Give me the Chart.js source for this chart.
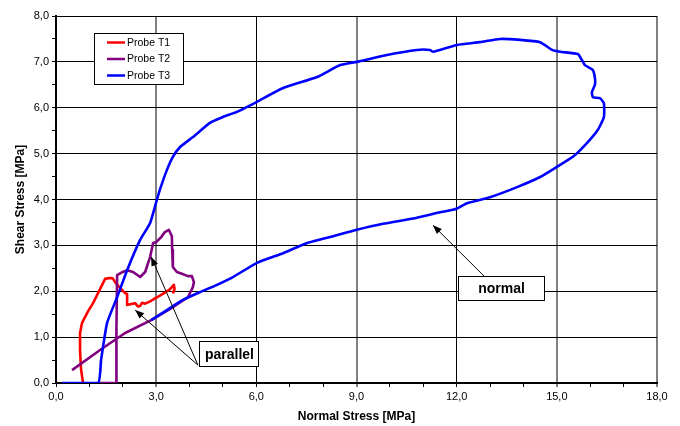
<!DOCTYPE html>
<html>
<head>
<meta charset="utf-8">
<script src="https://cdn.jsdelivr.net/npm/chart.js@4.4.1/dist/chart.umd.min.js"></script>
<style>
  body { margin: 0; background: #fff; }
</style>
</head>
<body>
<canvas id="chart" width="680" height="426"></canvas>
<script>
// values (Normal Stress x, Shear Stress y, both MPa)
const seriesNames = ['Probe T1', 'Probe T2', 'Probe T3']
const seriesColors = ['#ff0000', '#800080', '#0000ff']
const seriesTension = [0, 0, 0.15]

const t1X = [0.81, 0.75, 0.72, 0.72, 0.78, 0.95, 1.11, 1.30, 1.47, 1.60, 1.70, 1.77, 1.92, 2.07, 2.13, 2.13, 2.25, 2.37, 2.45, 2.52, 2.58, 2.67, 2.82, 2.95, 3.10, 3.26, 3.41, 3.53, 3.55, 3.50]
const t1Y = [0.00, 0.30, 0.70, 1.09, 1.31, 1.55, 1.74, 2.02, 2.27, 2.29, 2.28, 2.20, 2.07, 1.96, 1.94, 1.70, 1.72, 1.74, 1.67, 1.68, 1.75, 1.73, 1.78, 1.84, 1.90, 1.97, 2.04, 2.14, 2.05, 1.95]

const t2X = [1.26, 1.80, 1.81, 1.83, 2.00, 2.13, 2.31, 2.52, 2.67, 2.82, 2.91, 3.00, 3.15, 3.26, 3.38, 3.47, 3.48, 3.50, 3.62, 3.77, 3.95, 4.07, 4.13, 4.10, 3.95, 3.41, 2.85, 2.07, 1.32, 0.48]
const t2Y = [0.00, 0.00, 1.20, 2.35, 2.42, 2.46, 2.42, 2.31, 2.42, 2.75, 3.05, 3.07, 3.18, 3.29, 3.34, 3.20, 2.90, 2.53, 2.42, 2.38, 2.33, 2.33, 2.20, 2.09, 1.87, 1.61, 1.37, 1.09, 0.72, 0.28]

const t3X = [0.18, 1.26, 1.35, 1.53, 1.83, 2.13, 2.52, 2.82, 3.02, 3.11, 3.32, 3.50, 3.71, 4.10, 4.61, 5.00, 5.42, 6.02, 6.80, 7.82, 8.51, 9.01, 9.91, 10.81, 11.20, 11.29, 12.01, 12.70, 13.30, 13.90, 14.50, 14.86, 15.10, 15.63, 15.75, 15.84, 16.08, 16.14, 16.14, 16.05, 16.08, 16.29, 16.41, 16.41, 16.23, 15.90, 15.48, 15.00, 14.50, 13.81, 13.00, 12.31, 12.00, 11.50, 10.81, 9.79, 9.01, 8.30, 7.52, 6.80, 6.02, 5.30, 4.82, 4.31, 3.80, 3.32, 2.85]
const t3Y = [0.00, 0.00, 0.50, 1.31, 1.87, 2.46, 3.12, 3.49, 3.99, 4.21, 4.64, 4.93, 5.14, 5.36, 5.67, 5.80, 5.91, 6.13, 6.43, 6.67, 6.93, 7.00, 7.15, 7.26, 7.26, 7.22, 7.37, 7.43, 7.50, 7.48, 7.43, 7.26, 7.22, 7.17, 7.04, 6.93, 6.82, 6.65, 6.50, 6.34, 6.23, 6.21, 6.10, 5.80, 5.52, 5.23, 4.93, 4.71, 4.49, 4.27, 4.05, 3.92, 3.80, 3.72, 3.60, 3.47, 3.34, 3.20, 3.05, 2.83, 2.62, 2.31, 2.14, 1.98, 1.81, 1.59, 1.37]

const xTicks = [0, 3, 6, 9, 12, 15, 18]
const yTicks = [0, 1, 2, 3, 4, 5, 6, 7, 8]

// text boxes with arrows, anchored in data units
const callouts = [
    { text: 'parallel', at: [5.17, 0.64], w: 59, h: 25, from: [4.25, 0.39], to: [[2.85, 2.75], [2.37, 1.59]] },
    { text: 'normal', at: [13.33, 2.07], w: 86, h: 24, from: [12.82, 2.33], to: [[11.29, 3.44]] },
]

const FONT = 'Arial, "Liberation Sans", sans-serif'
const fmt = v => v.toFixed(1).replace('.', ',')

function points(xs, ys) {
    return xs.map((x, i) => ({ x: x, y: ys[i] }))
}

function arrow(ctx, x1, y1, x2, y2) {
    const a = Math.atan2(y2 - y1, x2 - x1)
    ctx.beginPath()
    ctx.moveTo(x1, y1)
    ctx.lineTo(x2, y2)
    ctx.stroke()
    ctx.beginPath()
    ctx.moveTo(x2, y2)
    ctx.lineTo(x2 - 9 * Math.cos(a) + 3.5 * Math.sin(a), y2 - 9 * Math.sin(a) - 3.5 * Math.cos(a))
    ctx.lineTo(x2 - 9 * Math.cos(a) - 3.5 * Math.sin(a), y2 - 9 * Math.sin(a) + 3.5 * Math.cos(a))
    ctx.closePath()
    ctx.fill()
}

const overlay = {
    id: 'overlay',
    afterDraw(chart) {
        const ctx = chart.ctx
        const sx = chart.scales.x, sy = chart.scales.y
        ctx.save()

        // legend box inside the plot
        const lx = 94, ly = 33
        ctx.fillStyle = '#fff'
        ctx.fillRect(lx, ly, 89, 51)
        ctx.strokeStyle = '#000'
        ctx.lineWidth = 1
        ctx.strokeRect(lx + 0.5, ly + 0.5, 89, 51)
        ctx.font = '10.5px ' + FONT
        ctx.textBaseline = 'middle'
        chart.data.datasets.forEach((ds, i) => {
            const y = ly + 9.5 + i * 16.5
            ctx.strokeStyle = ds.borderColor
            ctx.lineWidth = 2.5
            ctx.beginPath()
            ctx.moveTo(lx + 13, y)
            ctx.lineTo(lx + 31, y)
            ctx.stroke()
            ctx.fillStyle = '#000'
            ctx.fillText(ds.label, lx + 33, y + 0.5)
        })

        // callouts
        callouts.forEach(c => {
            ctx.strokeStyle = '#000'
            ctx.fillStyle = '#000'
            ctx.lineWidth = 1
            const fx = sx.getPixelForValue(c.from[0]), fy = sy.getPixelForValue(c.from[1])
            c.to.forEach(t => arrow(ctx, fx, fy, sx.getPixelForValue(t[0]), sy.getPixelForValue(t[1])))
            const cx = Math.round(sx.getPixelForValue(c.at[0])), cy = Math.round(sy.getPixelForValue(c.at[1]))
            const bx = cx - Math.round(c.w / 2), by = cy - Math.round(c.h / 2)
            ctx.fillStyle = '#fff'
            ctx.fillRect(bx, by, c.w, c.h)
            ctx.strokeRect(bx + 0.5, by + 0.5, c.w, c.h)
            ctx.fillStyle = '#000'
            ctx.font = 'bold 14px ' + FONT
            ctx.textAlign = 'center'
            ctx.textBaseline = 'middle'
            ctx.fillText(c.text, cx + 0.5, cy + 1.5)
        })
        ctx.restore()
    }
}

const canvas = document.querySelector('#chart')

new Chart(canvas.getContext('2d'), {
    type: 'scatter',
    data: {
        datasets: [
            { label: seriesNames[0], data: points(t1X, t1Y), order: 3 },
            { label: seriesNames[1], data: points(t2X, t2Y), order: 2 },
            { label: seriesNames[2], data: points(t3X, t3Y), order: 1 },
        ].map((ds, i) => Object.assign(ds, {
            showLine: true,
            borderColor: seriesColors[i],
            backgroundColor: seriesColors[i],
            borderWidth: 2.6,
            pointRadius: 0,
            tension: seriesTension[i],
            borderJoinStyle: 'round',
        }))
    },
    options: {
        responsive: false,
        animation: false,
        devicePixelRatio: 1,
        layout: { padding: { top: 16, right: 23, left: 0, bottom: 0 } },
        plugins: {
            legend: { display: false },
            tooltip: { enabled: false },
        },
        scales: {
            x: {
                type: 'linear',
                min: xTicks[0],
                max: xTicks[xTicks.length - 1],
                afterFit: s => { s.height = 43 },
                ticks: {
                    stepSize: 1,
                    autoSkip: false,
                    maxRotation: 0,
                    padding: 3,
                    color: '#000',
                    font: { family: FONT, size: 11 },
                    callback: v => xTicks.includes(v) ? fmt(v) : '',
                },
                grid: {
                    color: c => !xTicks.includes(c.tick.value) ? 'rgba(0,0,0,0)' : (c.tick.value % 6 === 0 && c.tick.value < 18 ? '#000' : '#808080'),
                    lineWidth: c => (xTicks.includes(c.tick.value) && c.tick.value % 6 !== 0) || c.tick.value === 18 ? 2 : 1,
                    tickColor: '#000',
                    tickWidth: 1,
                    tickLength: 4,
                },
                border: { color: '#000', width: 2 },
                title: {
                    display: true,
                    text: 'Normal Stress [MPa]',
                    color: '#000',
                    font: { family: FONT, size: 12, weight: 'bold' },
                    padding: { top: 0, bottom: 2 },
                },
            },
            y: {
                type: 'linear',
                min: yTicks[0],
                max: yTicks[yTicks.length - 1],
                afterFit: s => { s.width = 56 },
                ticks: {
                    stepSize: 0.5,
                    autoSkip: false,
                    padding: 3,
                    color: '#000',
                    font: { family: FONT, size: 11 },
                    callback: v => yTicks.includes(v) ? fmt(v) : '',
                },
                grid: {
                    color: c => yTicks.includes(c.tick.value) ? '#000' : 'rgba(0,0,0,0)',
                    lineWidth: 1,
                    tickColor: '#000',
                    tickWidth: 1,
                    tickLength: 4,
                },
                border: { color: '#000', width: 2 },
                title: {
                    display: true,
                    text: 'Shear Stress [MPa]',
                    color: '#000',
                    font: { family: FONT, size: 12, weight: 'bold' },
                    padding: { top: 13, bottom: 0 },
                },
            },
        },
    },
    plugins: [overlay],
})
</script>
</body>
</html>
